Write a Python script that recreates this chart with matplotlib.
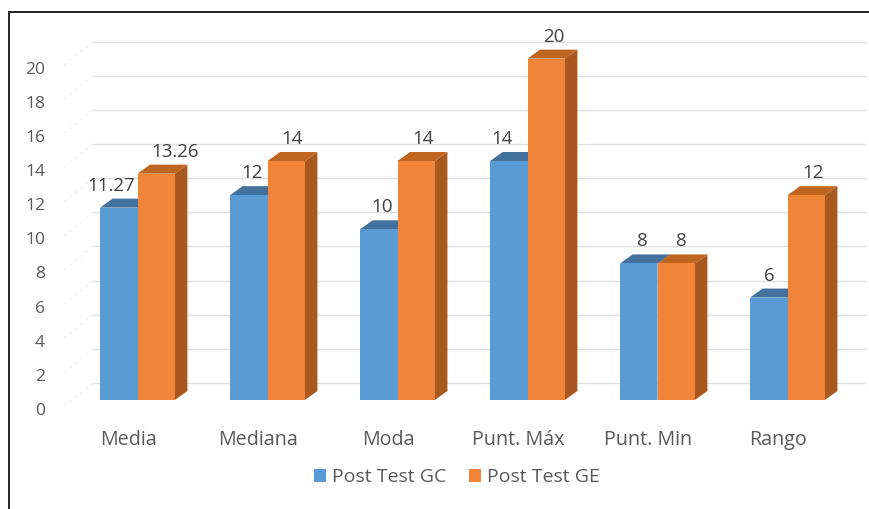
import matplotlib
matplotlib.use('Agg')
import matplotlib.pyplot as plt
from matplotlib.patches import Patch, Polygon, Rectangle
from matplotlib.transforms import ScaledTranslation

categories = ['Media', 'Mediana', 'Moda', 'Punt. Máx', 'Punt. Min', 'Rango']
post_test_gc = [11.27, 12, 10, 14, 8, 6]
post_test_ge = [13.26, 14, 14, 20, 8, 12]
gc_labels = ['11.27', '12', '10', '14', '8', '6']
ge_labels = ['13.26', '14', '14', '20', '8', '12']
y_ticks = list(range(0, 22, 2))

# hand placed data labels in the original, px away from the bar centre
gc_nudge = [-8, 3, 3, -7, 4, 1]
ge_nudge = [19, 6, 7, 8, 5, 7]

W, H = 869, 509
GROUP_PX = 130.0
UNIT_PX = 17.07
X0_PX, Y0_PX = 137.5, 400.0

TEXT = '#595959'
GRID = '#e0e0e0'
WALL = '#f3f3f3'
BLUE, BLUE_TOP = '#5b9bd5', '#41719c'
ORANGE, ORANGE_TOP, ORANGE_SIDE = '#f0853a', '#c0651f', '#a9591f'

plt.rcParams['font.family'] = ['Open Sans', 'DejaVu Sans']

fig = plt.figure(figsize=(W / 100, H / 100), dpi=100)
ax = fig.add_axes([0, 0, 1, 1])
# axes fills the figure, limits put category 0 / value 0 on the front of the first group
ax.set_xlim(-X0_PX / GROUP_PX, (W - X0_PX) / GROUP_PX)
ax.set_ylim((Y0_PX - H) / UNIT_PX, Y0_PX / UNIT_PX)
for s in ax.spines.values():
    s.set_visible(False)

bar_w = 37.4 / GROUP_PX
dx = 12.5 / GROUP_PX
dy = 9.0 / UNIT_PX
back_dx = -44.5 / GROUP_PX
back_dy = 17.0 / UNIT_PX
wall_dx = -74.0 / GROUP_PX
wall_dy = -7.0 / UNIT_PX
x_right = (866 - X0_PX) / GROUP_PX

# back wall grid and faint left wall
for v in y_ticks:
    ax.plot([back_dx, x_right], [v + back_dy, v + back_dy], color=GRID, lw=1.0, zorder=1)
    ax.plot([wall_dx, back_dx], [v + wall_dy, v + back_dy], color=WALL, lw=1.0,
            ls=(0, (3, 2)), zorder=1)


def draw_bar(x, val, front, top, side, z):
    ax.bar(x, val, width=bar_w, align='edge', color=front, linewidth=0, zorder=z + 0.2)
    ax.add_patch(Polygon([(x, val), (x + dx, val + dy), (x + bar_w + dx, val + dy), (x + bar_w, val)],
                         closed=True, fc=top, ec='none', zorder=z))
    ax.add_patch(Polygon([(x + bar_w, 0), (x + bar_w + dx, dy), (x + bar_w + dx, val + dy), (x + bar_w, val)],
                         closed=True, fc=side, ec='none', zorder=z))


label_up = 22.0 / UNIT_PX
for i, cat in enumerate(categories):
    draw_bar(i - bar_w, post_test_gc[i], BLUE, BLUE_TOP, BLUE_TOP, 3)
    draw_bar(i, post_test_ge[i], ORANGE, ORANGE_TOP, ORANGE_SIDE, 4)
    ax.text(i - bar_w / 2 + gc_nudge[i] / GROUP_PX, post_test_gc[i] + label_up, gc_labels[i],
            ha='center', va='center', fontsize=13.5, color='#404040', zorder=6)
    ax.text(i + bar_w / 2 + ge_nudge[i] / GROUP_PX, post_test_ge[i] + label_up, ge_labels[i],
            ha='center', va='center', fontsize=13.5, color='#404040', zorder=6)

# ticks are real axis ticks, their labels are shifted off the front plane
ax.set_yticks(y_ticks)
ax.set_yticklabels([str(v) for v in y_ticks])
ax.set_xticks(range(len(categories)))
ax.set_xticklabels(categories)
ax.tick_params(axis='both', length=0, labelcolor=TEXT)
ax.tick_params(axis='y', labelsize=12.5, pad=-32.4)
ax.tick_params(axis='x', labelsize=14.2, pad=-57)
for lab in ax.get_yticklabels():
    lab.set_transform(lab.get_transform() + ScaledTranslation(0, -9 / 100, fig.dpi_scale_trans))
for lab in ax.get_xticklabels():
    lab.set_transform(lab.get_transform() + ScaledTranslation(-9.5 / 100, 0, fig.dpi_scale_trans))

handles = [Patch(fc=BLUE, label='Post Test GC'), Patch(fc=ORANGE, label='Post Test GE')]
ax.legend(handles=handles, loc='center', bbox_to_anchor=(457 / W, 1 - 477.5 / H), ncol=2, frameon=False,
          fontsize=14, labelcolor=TEXT, handlelength=0.62, handleheight=0.62, handletextpad=0.3,
          columnspacing=1.2, borderpad=0)

# black frame open to the edge of the crop
fig.add_artist(Rectangle((9 / W, -0.02), 1.02 - 9 / W, 1.02 - 12 / H, transform=fig.transFigure,
                         fc='none', ec='#222222', lw=1.4))

fig.savefig('out.png', dpi=100)
